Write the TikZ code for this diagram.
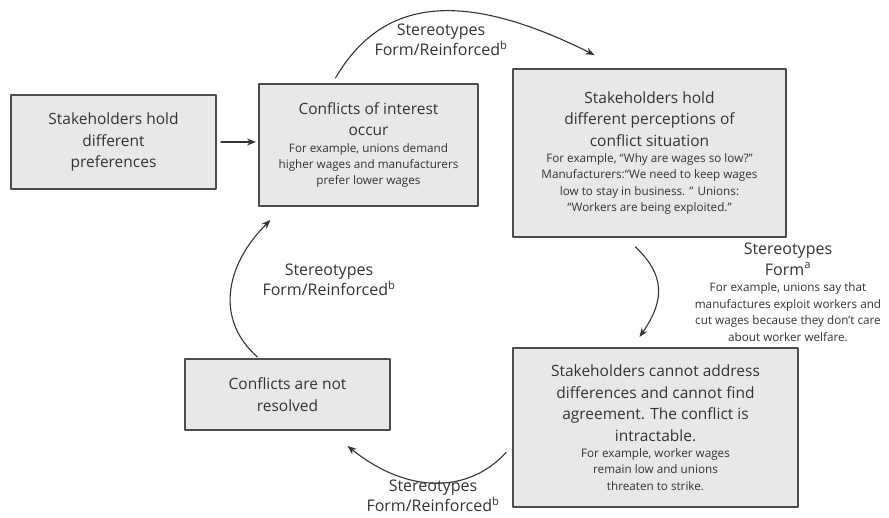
\documentclass[tikz,border=0pt]{standalone}
\usepackage{fontspec}
\setmainfont{Open Sans}
\usetikzlibrary{arrows.meta}
\definecolor{ConfPaper}{gray}{0.91}
\definecolor{ConfInk}{gray}{0.2}
\definecolor{ConfEdge}{gray}{0.3}
\newcommand{\confmain}{\fontsize{15.5}{21.5}\selectfont}
\newcommand{\confsmall}{\fontsize{11.7}{16.3}\selectfont}
\tikzset{
    conf/diagram/.style={
        x=1pt, y=-1pt,
        text=ConfInk,
        line cap=round,
        line join=round,
        every node/.style={inner sep=0pt, outer sep=0pt}
    },
    conf/box/.style={
        rectangle, fill=ConfPaper, draw=ConfEdge,
        line width=1.4pt, align=flush center, font=\confmain
    },
    conf/flow/.style={
        draw=ConfInk, line width=1.1pt,
        -{Stealth[length=9pt, width=7pt]}
    },
    conf/label/.style={align=flush center, font=\fontsize{16}{20.5}\selectfont}
}
\begin{document}
\begin{tikzpicture}[conf/diagram]
    \useasboundingbox (0,0) rectangle (889,517);
    \node[conf/box, minimum width=205pt, minimum height=94pt, text width=195pt]
        (prefs) at (113.5,142) {Stakeholders hold\\different\\preferences\par};
    \node[conf/box, minimum width=219pt, minimum height=122pt, text width=214pt]
        (interest) at (368.5,145) {Conflicts of interest\\occur\par
        \confsmall For example, unions demand\\higher wages and manufacturers\\prefer lower wages\par};
    \node[conf/box, minimum width=273pt, minimum height=168pt, text width=265pt]
        (percept) at (649.5,153) {Stakeholders hold\\different perceptions of\\conflict situation\par
        \confsmall For example, “Why are wages so low?”\\Manufacturers:“We need to keep wages\\low to stay in business. ” Unions:\\“Workers are being exploited.”\par};
    \node[conf/box, minimum width=285pt, minimum height=159pt, text width=275pt]
        (intract) at (655.5,427.5) {Stakeholders cannot address\\differences and cannot find\\agreement. The conflict is\\intractable.\par
        \confsmall For example, worker wages\\remain low and unions\\threaten to strike.\par};
    \node[conf/box, minimum width=205pt, minimum height=71pt, text width=195pt]
        (unres) at (287.5,394.5) {Conflicts are not\\resolved\par};
    \node[conf/label] (topNote) at (441,40) {Stereotypes\\Form/Reinforced\textsuperscript{b}\par};
    \node[conf/label, text width=205pt, anchor=north] (rightNote) at (788,243)
        {Stereotypes\\Form\textsuperscript{a}\par
        \fontsize{11.7}{16.5}\selectfont For example, unions say that\\manufactures exploit workers and\\cut wages because they don’t care\\about worker welfare.\par};
    \node[conf/label] (leftNote) at (329,280) {Stereotypes\\Form/Reinforced\textsuperscript{b}\par};
    \node[conf/label] (bottomNote) at (433,496) {Stereotypes\\Form/Reinforced\textsuperscript{b}\par};
    \draw[conf/flow] ([xshift=5pt]prefs.east) -- ([xshift=-3pt]interest.west |- prefs.east);
    \draw[conf/flow] ([xshift=-33pt, yshift=6pt]interest.north)
        .. controls (385,-7) and (470,-7) .. ([xshift=-55pt, yshift=14pt]percept.north);
    \draw[conf/flow] ([xshift=-14pt, yshift=-10pt]percept.south)
        .. controls (665,275) and (665,300) .. ([xshift=-16pt, yshift=11pt]intract.north);
    \draw[conf/flow] ([xshift=-7pt, yshift=-25pt]intract.west)
        .. controls (470,492) and (410,496) .. ([xshift=60pt, yshift=-16pt]unres.south);
    \draw[conf/flow] ([xshift=-30pt, yshift=2pt]unres.north)
        .. controls (215,320) and (225,265) .. ([xshift=-98pt, yshift=-14pt]interest.south);
\end{tikzpicture}
\end{document}
